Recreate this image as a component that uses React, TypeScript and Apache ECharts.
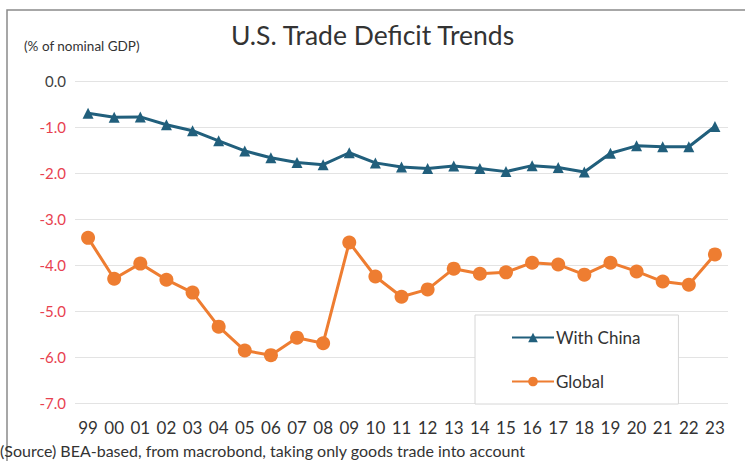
import React, { useEffect, useRef } from "react";
import * as echarts from "echarts";

const years = ["99","00","01","02","03","04","05","06","07","08","09","10","11","12","13","14","15","16","17","18","19","20","21","22","23"];
const withChina = [-0.7,-0.79,-0.78,-0.95,-1.08,-1.3,-1.52,-1.67,-1.77,-1.82,-1.56,-1.78,-1.87,-1.9,-1.85,-1.9,-1.97,-1.84,-1.88,-1.98,-1.57,-1.41,-1.43,-1.43,-0.99];
const globalDeficit = [-3.41,-4.3,-3.97,-4.32,-4.6,-5.34,-5.86,-5.96,-5.58,-5.7,-3.51,-4.25,-4.69,-4.53,-4.08,-4.19,-4.16,-3.95,-3.99,-4.21,-3.95,-4.14,-4.36,-4.43,-3.77];
const seriesNames = ["With China", "Global"];
const titleText = "U.S. Trade Deficit Trends";
const unitText = "(% of nominal GDP)";
const sourceText = "(Source) BEA-based, from macrobond, taking only goods trade into account";

const FONT = "Lato, 'Noto Sans', sans-serif";

export default function App() {
  const ref = useRef<HTMLDivElement>(null);
  useEffect(() => {
    if (!ref.current) return;
    const chart = echarts.init(ref.current, undefined, { renderer: "svg" });
    chart.setOption({
      animation: false,
      backgroundColor: "#ffffff",
      textStyle: { fontFamily: FONT },
      title: {
        text: titleText,
        left: "center",
        top: 21,
        padding: 0,
        textStyle: { fontFamily: FONT, fontSize: 26.5, fontWeight: "normal", color: "#333333" },
      },
      grid: { left: 75, right: 17, top: 81, bottom: 58, containLabel: false },
      xAxis: {
        type: "category",
        data: years,
        boundaryGap: true,
        axisLine: { show: false },
        axisTick: { show: false },
        axisLabel: { fontFamily: FONT, fontSize: 17, color: "#333333", margin: 16, interval: 0 },
      },
      yAxis: {
        type: "value",
        min: -7,
        max: 0,
        interval: 1,
        axisLine: { show: false },
        axisTick: { show: false },
        splitLine: { lineStyle: { color: "#e3e3e3", width: 1 } },
        axisLabel: {
          fontFamily: FONT,
          fontSize: 15,
          margin: 9,
          formatter: (v: number) => v.toFixed(1),
          color: (v: any) => (Number(v) < 0 ? "#e8414f" : "#404040"),
        },
      },
      legend: {
        orient: "vertical",
        left: 475,
        top: 315,
        padding: [14, 38, 14, 36],
        itemGap: 27,
        itemWidth: 42,
        itemHeight: 12,
        borderColor: "#d6d6d6",
        borderWidth: 1,
        backgroundColor: "#ffffff",
        textStyle: { fontFamily: FONT, fontSize: 17, color: "#333333", padding: [0, 0, 0, -3] },
        data: seriesNames,
      },
      series: [
        {
          name: seriesNames[0],
          type: "line",
          data: withChina,
          symbol: "triangle",
          symbolSize: 11,
          color: "#215f7c",
          lineStyle: { width: 3, color: "#215f7c" },
          itemStyle: { color: "#215f7c" },
        },
        {
          name: seriesNames[1],
          type: "line",
          data: globalDeficit,
          symbol: "circle",
          symbolSize: 14,
          color: "#ee7d31",
          lineStyle: { width: 3, color: "#ee7d31" },
          itemStyle: { color: "#ee7d31" },
        },
      ],
      graphic: [
        {
          type: "rect",
          shape: { x: 7, y: 10, width: 800, height: 500 },
          style: { fill: "none", stroke: "#8a8a8a", lineWidth: 1.5 },
          silent: true,
        },
        {
          type: "text",
          left: 24,
          top: 39,
          style: { text: unitText, fontFamily: FONT, fontSize: 13.5, fill: "#333333" },
        },
        {
          type: "text",
          left: 0,
          top: 442,
          style: { text: sourceText, fontFamily: FONT, fontSize: 16, fill: "#333333" },
        },
      ],
    });
    return () => chart.dispose();
  }, []);
  return (
    <div
      ref={ref}
      style={{ position: "fixed", left: 0, top: 0, width: 745, height: 461 }}
    />
  );
}
